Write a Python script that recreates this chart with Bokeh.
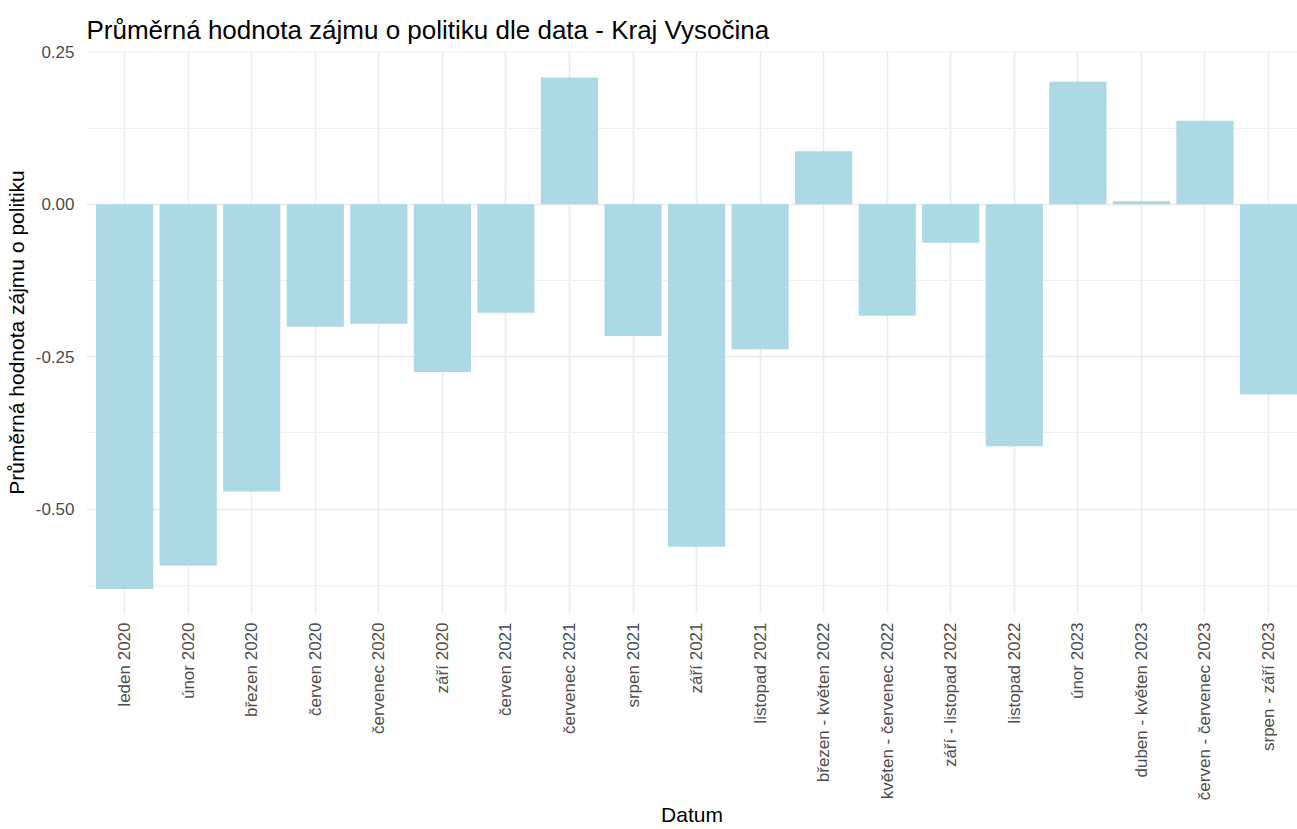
from bokeh.plotting import figure
from bokeh.models import Range1d, FixedTicker, ColumnDataSource, PrintfTickFormatter
from bokeh.embed import file_html
from bokeh.resources import INLINE

categories = ["leden 2020", "únor 2020", "březen 2020", "červen 2020", "červenec 2020",
              "září 2020", "červen 2021", "červenec 2021", "srpen 2021", "září 2021",
              "listopad 2021", "březen - květen 2022", "květen - červenec 2022",
              "září - listopad 2022", "listopad 2022", "únor 2023", "duben - květen 2023",
              "červen - červenec 2023", "srpen - září 2023"]
values = [-0.631, -0.593, -0.471, -0.201, -0.196, -0.275, -0.178, 0.208, -0.216, -0.562,
          -0.238, 0.087, -0.183, -0.063, -0.397, 0.201, 0.005, 0.137, -0.312]
y_ticks = [-0.5, -0.25, 0.0, 0.25]
y_minor = [-0.625, -0.375, -0.125, 0.125]

positions = [i + 0.5 for i in range(len(categories))]
source = ColumnDataSource(dict(x=positions, top=values, cat=categories))

FONT = "Liberation Sans"

p = figure(width=1297, height=829, output_backend="svg", toolbar_location=None,
           x_range=Range1d(-0.1, 18.956), y_range=Range1d(-0.6713, 0.2505),
           min_border_left=86, min_border_right=0, min_border_top=51, min_border_bottom=216,
           title="Průměrná hodnota zájmu o politiku dle data - Kraj Vysočina")

p.vbar(x="x", top="top", bottom=0, width=0.9, source=source,
       fill_color="#ADD8E6", line_color=None)

p.outline_line_color = None
p.background_fill_color = "white"
p.border_fill_color = "white"

p.title.text_font = FONT
p.title.text_font_size = "26px"
p.title.text_font_style = "normal"
p.title.text_color = "black"
p.title.offset = 0
p.title.standoff = 13

p.xaxis.ticker = FixedTicker(ticks=positions)
p.xaxis.major_label_overrides = {pos: c for pos, c in zip(positions, categories)}
p.xaxis.major_label_orientation = 1.5707963
p.yaxis.ticker = FixedTicker(ticks=y_ticks, minor_ticks=y_minor)
p.yaxis.formatter = PrintfTickFormatter(format="%.2f")

p.xaxis.axis_label = "Datum"
p.yaxis.axis_label = "Průměrná hodnota zájmu o politiku"

for ax in (p.xaxis, p.yaxis):
    ax.axis_line_color = None
    ax.major_tick_line_color = None
    ax.minor_tick_line_color = None
    ax.major_tick_out = 0
    ax.major_tick_in = 0
    ax.major_label_text_font = FONT
    ax.major_label_text_font_size = "17px"
    ax.major_label_text_color = "#4D4D4D"
    ax.axis_label_text_font = FONT
    ax.axis_label_text_font_size = "21px"
    ax.axis_label_text_font_style = "normal"
    ax.axis_label_text_color = "black"

p.xaxis.major_label_standoff = 9
p.xaxis.axis_label_standoff = 0
p.yaxis.major_label_standoff = 8
p.yaxis.axis_label_standoff = 5

p.xgrid.grid_line_color = "#EBEBEB"
p.xgrid.grid_line_width = 1.6
p.ygrid.grid_line_color = "#EBEBEB"
p.ygrid.grid_line_width = 1.6
p.ygrid.minor_grid_line_color = "#F0F0F0"
p.ygrid.minor_grid_line_width = 1.0

open("out.html", "w").write(file_html(p, INLINE))
